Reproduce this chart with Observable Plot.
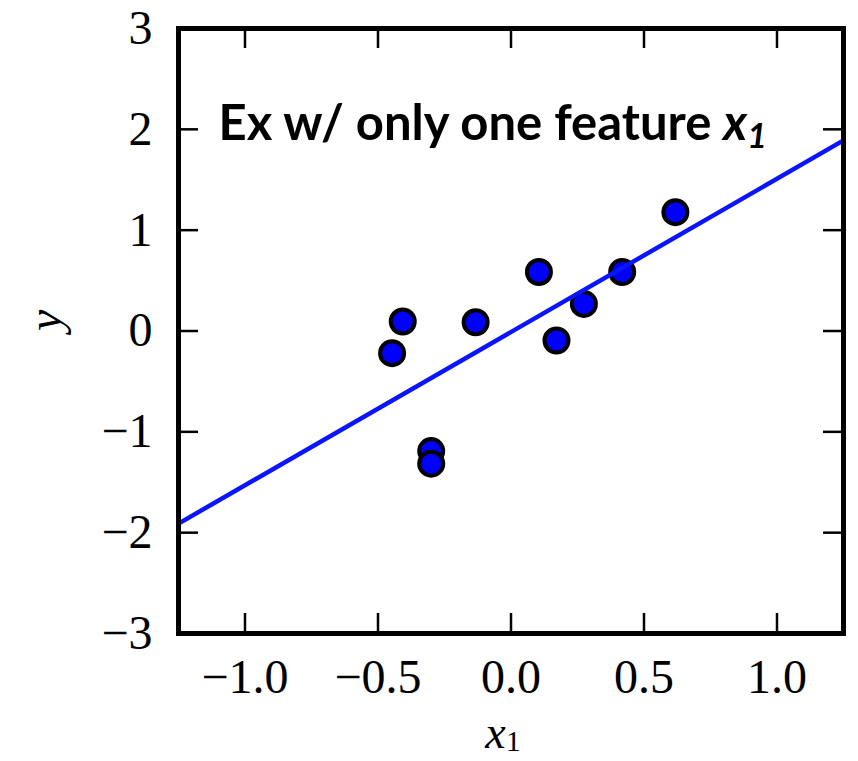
<!DOCTYPE html>
<html><head><meta charset="utf-8">
<script src="https://cdn.jsdelivr.net/npm/d3@7"></script>
<script src="https://cdn.jsdelivr.net/npm/@observablehq/plot@0.6"></script>
<style>body{margin:0;background:#fff} svg{display:block}</style>
</head><body><div id="chart"></div>
<script>
// data
const xValues = [-0.447, -0.407, -0.133, 0.105, 0.171, 0.274, 0.418, 0.618, -0.300, -0.300];
const yValues = [-0.22, 0.094, 0.087, 0.585, -0.094, 0.269, 0.585, 1.178, -1.191, -1.316];
const fitX = [-1.25, 1.25];
const fitY = [-1.91, 1.89];
const xTicks = [-1.0, -0.5, 0.0, 0.5, 1.0];
const yTicks = [-3, -2, -1, 0, 1, 2, 3];
const titleText = "Ex w/ only one feature ";
const xLabel = "x";
const yLabel = "y";

const W = 858, H = 761, mL = 178, mR = 15, mT = 28, mB = 128;
const innerW = W - mL - mR, innerH = H - mT - mB;
const tickLen = 20;
const points = xValues.map((x, i) => ({x, y: yValues[i]}));
const fitLine = fitX.map((x, i) => ({x, y: fitY[i]}));
const serif = "'Liberation Serif', 'DejaVu Serif', serif";

const chart = Plot.plot({
  width: W, height: H,
  marginLeft: mL, marginRight: mR, marginTop: mT, marginBottom: mB,
  style: {background: "white", overflow: "visible"},
  x: {domain: [-1.25, 1.25]},
  y: {domain: [-3, 3]},
  marks: [
    Plot.dot(points, {x: "x", y: "y", r: 12, fill: "#0000ff", stroke: "black", strokeWidth: 4}),
    Plot.line(fitLine, {x: "x", y: "y", stroke: "#0a14ff", strokeWidth: 4.5}),
    Plot.ruleX(xTicks, {x: d => d, insetTop: innerH - tickLen, stroke: "black", strokeWidth: 2.5}),
    Plot.ruleX(xTicks, {x: d => d, insetBottom: innerH - tickLen, stroke: "black", strokeWidth: 2.5}),
    Plot.ruleY(yTicks, {y: d => d, insetRight: innerW - tickLen, stroke: "black", strokeWidth: 2.5}),
    Plot.ruleY(yTicks, {y: d => d, insetLeft: innerW - tickLen, stroke: "black", strokeWidth: 2.5}),
    Plot.frame({stroke: "black", strokeWidth: 5}),
    Plot.axisX(xTicks, {tickSize: 0, tickPadding: 25, tickFormat: d3.format(".1f"), fontSize: 48, fontFamily: serif, label: null, color: "black"}),
    Plot.axisY(yTicks, {tickSize: 0, tickPadding: 26, tickFormat: d3.format("d"), fontSize: 48, fontFamily: serif, label: null, color: "black"}),
    Plot.text([titleText], {text: d => d, frameAnchor: "top-left", dx: 40, dy: 77, lineAnchor: "top", textAnchor: "start",
      fontSize: 49, fontWeight: "bold", fontFamily: "Lato, 'Open Sans', sans-serif", fill: "black"}),
    Plot.text([xLabel], {text: d => d, frameAnchor: "bottom", dx: -8, dy: 100, lineAnchor: "middle",
      fontSize: 46, fontStyle: "italic", fontFamily: serif, fill: "black"}),
    Plot.text([yLabel], {text: d => d, frameAnchor: "left", dx: -133, rotate: -90, lineAnchor: "middle",
      fontSize: 48, fontStyle: "italic", fontFamily: serif, fill: "black"})
  ]
});
document.getElementById("chart").append(chart);

// subscripts
d3.select(chart).selectAll("text").each(function() {
  const t = this.textContent;
  if (t === titleText) {
    const s = d3.select(this);
    s.append("tspan").attr("font-style", "italic").text("x");
    s.append("tspan").attr("font-style", "italic").attr("font-size", 34).attr("dy", 8).text("1");
  } else if (t === xLabel && !this.closest("[aria-label*='axis']")) {
    const s = d3.select(this);
    s.append("tspan").attr("font-style", "normal").attr("font-size", 30).attr("dy", 3).text("1");
  }
});
</script>
</body></html>
